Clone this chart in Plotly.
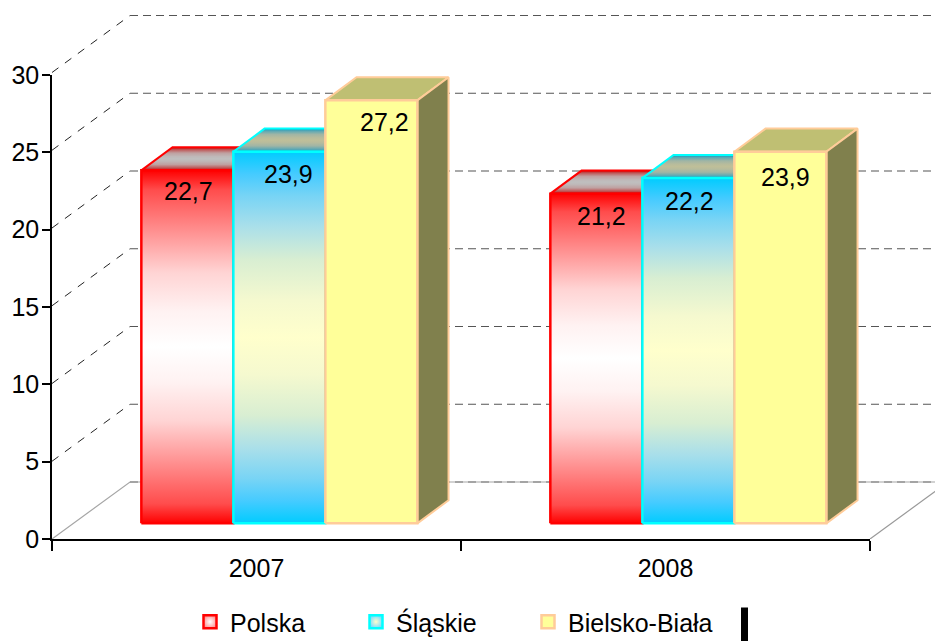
import plotly.graph_objects as go

categories = ["2007", "2008"]
series_names = ["Polska", "Śląskie", "Bielsko-Biała"]
polska = [22.7, 21.2]
slaskie = [23.9, 22.2]
bielsko = [27.2, 23.9]
y_ticks = [0, 5, 10, 15, 20, 25, 30]
series_values = [polska, slaskie, bielsko]

FONT = "Liberation Sans, Arial, sans-serif"
FS = 25

# pixel scale of the mark axes, and the oblique projection of depth in axis units
PX_X, PX_Y = 409, 15.55
DX, DY = 78 / PX_X, 57 / PX_Y
FRONT_X, FRONT_Y, BACK = 0.28, 0.275, 0.68
BAR_W = 92 / PX_X
GAP = (1 - 3 * BAR_W) / 2 + 1 / PX_X
# nudges of the value labels (px), per series and category
LABEL_NUDGE = [[1, 5], [9, 1], [13, 5]]
LABEL_DROP = [[11, 13], [13, 13], [12, 16]]

def mirrored(stops):
    return stops + [[round(1 - p, 3), c] for p, c in reversed(stops[:-1])]

borders = ["#ff0000", "#00ffff", "#ffcc99"]
fronts = [
    mirrored([[0, "#ff0000"], [0.055, "#ff4c4c"], [0.2, "#ffa0a0"], [0.29, "#ffd4d4"], [0.4, "#fff2f2"], [0.5, "#ffffff"]]),
    mirrored([[0, "#00ccff"], [0.06, "#45cbff"], [0.12, "#78d4f5"], [0.2, "#a9dfea"], [0.29, "#d8eed2"], [0.4, "#f5f9cf"], [0.5, "#ffffcc"]]),
    [[0, "#ffff99"], [1, "#ffff99"]],
]
tops = [
    mirrored([[0, "#bf0000"], [0.1, "#bf5555"], [0.25, "#bfa0a0"], [0.4, "#bfb8b8"], [0.5, "#bfbfbf"]]),
    mirrored([[0, "#0099bf"], [0.1, "#5aa8b5"], [0.25, "#a0b5a5"], [0.4, "#b8bc9c"], [0.5, "#bfbf99"]]),
    [[0, "#bfbf73"], [1, "#bfbf73"]],
]
sides = ["#800000", "#006680", "#80804d"]
legend_edge = ["#ff9a9a", "#7fdcff", "#ffff99"]
legend_center = ["#ffffff", "#ffffcc", "#ffff99"]
legend_left_px = [190, 356, 528]

fig = go.Figure()
AX = dict(xaxis="x2", yaxis="y2")

def line(xs, ys, color, width, dash="solid"):
    fig.add_trace(go.Scatter(x=xs, y=ys, mode="lines", cliponaxis=False, showlegend=False,
                             hoverinfo="skip", line=dict(color=color, width=width, dash=dash), **AX))

# walls and floor
for t in y_ticks[1:]:
    line([0, DX], [t, t + DY], "#222222", 1, "8px,8px")
    line([DX, 2 + DX], [t + DY, t + DY], "#555555", 1.2, "8px,5px")
line([0, DX, 2 + DX], [0, DY, DY], "#a6a6a6", 1.2)
line([DX, 2 + DX], [DY, DY], "#777777", 1.2, "8px,5px")
line([2, 2 + DX], [0, DY], "#999999", 1.2)

def poly(xs, ys, border, width, color=None, scale=None):
    kw = dict(fillcolor=color) if color else dict(fillgradient=dict(type="vertical", colorscale=scale))
    fig.add_trace(go.Scatter(x=xs + xs[:1], y=ys + ys[:1], mode="lines", fill="toself", cliponaxis=False,
                             showlegend=False, hoverinfo="skip",
                             line=dict(color=border, width=width), **kw, **AX))

fx, fy = FRONT_X * DX, FRONT_Y * DY
bx, by = BACK * DX, BACK * DY
for g in range(len(categories)):
    for s, vals in enumerate(series_values):
        x0 = g + GAP + s * BAR_W
        x1 = x0 + BAR_W
        v = vals[g]
        poly([x0 + fx, x1 + fx, x1 + bx, x0 + bx], [v + fy, v + fy, v + by, v + by],
             borders[s], 2, scale=tops[s])
        poly([x1 + fx, x1 + bx, x1 + bx, x1 + fx], [fy, by, v + by, v + fy],
             borders[s], 2, color=sides[s])
        poly([x0 + fx, x1 + fx, x1 + fx, x0 + fx], [fy, fy, v + fy, v + fy],
             borders[s], 2.5, scale=fronts[s])

# value labels
for s, vals in enumerate(series_values):
    fig.add_trace(go.Scatter(
        x=[g + GAP + (s + 0.5) * BAR_W + fx + LABEL_NUDGE[s][g] / PX_X for g in range(len(categories))],
        y=[v + fy - LABEL_DROP[s][g] / PX_Y for g, v in enumerate(vals)],
        mode="text", cliponaxis=False, showlegend=False, hoverinfo="skip",
        text=[f"{v:.1f}".replace(".", ",") for v in vals],
        textposition="bottom center",
        textfont=dict(family=FONT, size=FS, color="black"), **AX))

W, H = 935, 641
L, B, T = 52, 102, 14
PLOT_W, PLOT_H = W - L, H - B - T
AXIS_W, AXIS_H = 818, 464

# one legend per series, so each entry can sit where the reference has it
legends = {}
for s, name in enumerate(series_names):
    key = "legend" if s == 0 else f"legend{s + 1}"
    fig.add_trace(go.Scatter(
        x=[None], y=[None], mode="markers", name=name, legend=key, showlegend=True,
        marker=dict(symbol="square", size=13, color=legend_edge[s],
                    gradient=dict(type="radial", color=legend_center[s]),
                    line=dict(color=borders[s], width=2.5))))
    legends[key] = dict(x=(legend_left_px[s] - L) / PLOT_W, y=1 - 599 / H, xanchor="left", yanchor="top",
                        xref="paper", yref="container", orientation="h",
                        font=dict(family=FONT, size=FS), bgcolor="rgba(0,0,0,0)")

fig.update_layout(
    width=W, height=H,
    margin=dict(l=L, r=0, t=T, b=B, pad=0),
    paper_bgcolor="white", plot_bgcolor="rgba(0,0,0,0)",
    font=dict(family=FONT, size=FS, color="black"),
    shapes=[dict(type="rect", xref="paper", yref="paper",
                 x0=(741 - L) / PLOT_W, x1=(748 - L) / PLOT_W,
                 y0=-B / PLOT_H, y1=-68.5 / PLOT_H,
                 fillcolor="black", line=dict(width=0))],
    xaxis=dict(domain=[0, AXIS_W / PLOT_W], range=[0, 2], tickmode="array", tickvals=[0.5, 1.5],
               ticktext=categories, ticks="", showgrid=False, zeroline=False, showline=True,
               linecolor="black", linewidth=1.5, ticklabelstandoff=6,
               tickfont=dict(family=FONT, size=FS),
               minor=dict(tickmode="array", tickvals=[0, 1, 2], ticks="outside", ticklen=10,
                          tickwidth=1.5, tickcolor="black", showgrid=False)),
    yaxis=dict(domain=[0, AXIS_H / PLOT_H], range=[0, 30], tickmode="array", tickvals=y_ticks,
               ticks="outside", ticklen=8, tickwidth=1.5, tickcolor="black", showgrid=False,
               zeroline=False, showline=True, linecolor="black", linewidth=1.5,
               ticklabelstandoff=-2,
               tickfont=dict(family=FONT, size=FS)),
    xaxis2=dict(domain=[0, 1], range=[0, 2 * PLOT_W / AXIS_W], visible=False, anchor="y2"),
    yaxis2=dict(domain=[0, 1], range=[0, PLOT_H / PX_Y], visible=False, anchor="x2"),
    **legends,
)
fig.write_html("out.html", config=dict(displayModeBar=False),
               post_script="document.body.style.margin='0';")
